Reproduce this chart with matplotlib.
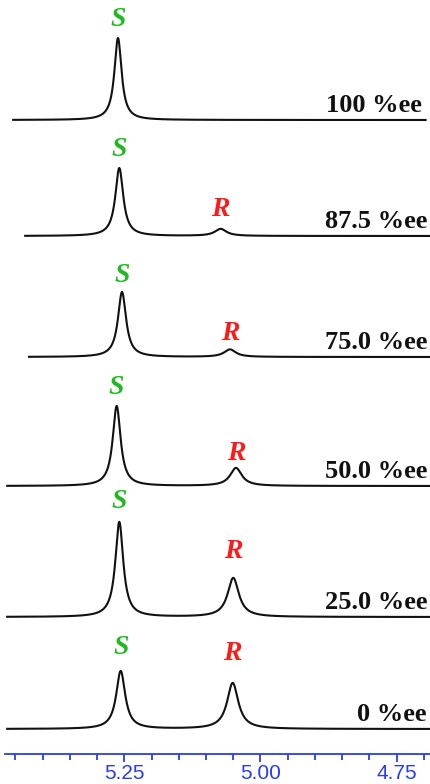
import numpy as np
import matplotlib
matplotlib.use("Agg")
import matplotlib.pyplot as plt
from matplotlib.ticker import MultipleLocator, FixedLocator

# ---------------- data ----------------
ee_labels = ["100 %ee", "87.5 %ee", "75.0 %ee", "50.0 %ee", "25.0 %ee", "0 %ee"]
s_shift = [5.2616, 5.2592, 5.2542, 5.2640, 5.2592, 5.2566]   # ppm, S peak
r_shift = [np.nan, 5.0731, 5.0560, 5.0450, 5.0500, 5.0510]   # ppm, R peak
s_height = [82, 68, 65, 80, 95, 58]                           # intensity (a.u.)
r_height = [0, 7, 7.5, 18, 39, 46]
s_hwhm = [0.0080, 0.0088, 0.0090, 0.0088, 0.0088, 0.0100]     # ppm
r_hwhm = [0.013, 0.013, 0.013, 0.013, 0.0125, 0.0125]
trace_start = [5.454, 5.432, 5.425, 5.465, 5.465, 5.465]       # ppm
trace_end = [4.697, 4.688, 4.688, 4.687, 4.687, 4.687]
major_ticks = [5.25, 5.00, 4.75]
tick_labels = ["5.25", "5.00", "4.75"]

# ---------------- layout ----------------
W, H = 431, 784
AXIS_Y = 754                     # pixel row of the axis line
baseline_px = [120, 236, 357, 486, 617, 729]
s_label_px = [20, 150, 275, 387, 502, 648]
r_label_px = [None, 210, 334, 453, 551, 653]
ee_right_ppm = [4.704, 4.694, 4.694, 4.694, 4.694, 4.696]

blue = "#2a3cf0"
green = "#22b822"
red = "#ff1a1a"

fig = plt.figure(figsize=(W / 100, H / 100), dpi=100)
left = 5 / W
ax = fig.add_axes([left, (H - AXIS_Y) / H, 1 - left, AXIS_Y / H])
ax.set_xlim(5.469, 4.687)
ax.set_ylim(0, AXIS_Y)


def lor(x, c, h, w):
    return h / (1.0 + ((x - c) / w) ** 2)


for i in range(len(ee_labels)):
    x = np.linspace(trace_start[i], trace_end[i], 3000)
    y = lor(x, s_shift[i], s_height[i], s_hwhm[i])
    if not np.isnan(r_shift[i]):
        y = y + lor(x, r_shift[i], r_height[i], r_hwhm[i])
    off = AXIS_Y - baseline_px[i]
    ax.plot(x, y + off, color="#111111", lw=1.5, solid_joinstyle="round")
    ax.text(s_shift[i], AXIS_Y - s_label_px[i], "S", color=green,
            fontsize=20, family="Liberation Serif", style="italic",
            weight="bold", ha="center", va="center")
    if r_label_px[i] is not None:
        ax.text(r_shift[i], AXIS_Y - r_label_px[i], "R", color=red,
                fontsize=20, family="Liberation Serif", style="italic",
                weight="bold", ha="center", va="center")
    ax.text(ee_right_ppm[i], off + 8, ee_labels[i], fontsize=19,
            family="Liberation Serif", weight="bold", ha="right",
            va="baseline", color="#111111")

for s in ["top", "left", "right"]:
    ax.spines[s].set_visible(False)
ax.spines["bottom"].set_color(blue)
ax.spines["bottom"].set_linewidth(1.3)
ax.set_yticks([])
ax.xaxis.set_major_locator(FixedLocator(major_ticks))
ax.set_xticklabels(tick_labels)
ax.xaxis.set_minor_locator(MultipleLocator(0.05))
ax.tick_params(axis="x", which="major", direction="out", length=5.5,
               width=1.3, color=blue, labelcolor=blue, labelsize=15, pad=1.5)
ax.tick_params(axis="x", which="minor", direction="out", length=4.5,
               width=1.3, color=blue)
for lab in ax.get_xticklabels():
    lab.set_family("Liberation Sans")

fig.savefig("out.png", dpi=100)
